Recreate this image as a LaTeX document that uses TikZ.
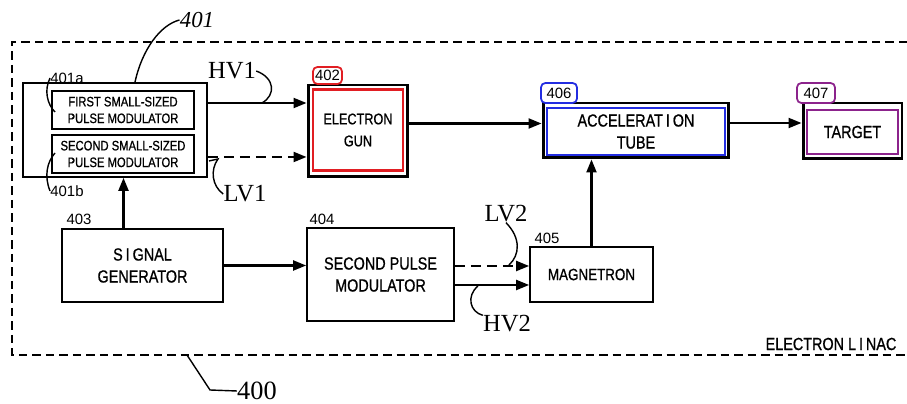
\documentclass[tikz,border=0pt]{standalone}
\usepackage{fontspec}
\setmainfont{Liberation Serif}
\setsansfont{Liberation Sans}
\newfontfamily\bloccofont[FakeStretch=0.82, FakeBold=0.8]{Liberation Sans}
\usetikzlibrary{arrows.meta}

\definecolor{rossoL}{RGB}{225,30,35}
\definecolor{bluL}{RGB}{35,45,225}
\definecolor{violaL}{RGB}{140,35,140}

\tikzset{
    blocco/.style={draw, line width=1pt, align=center, inner sep=0pt, font=\bloccofont\fontsize{10}{12.5}\selectfont},
    esterno/.style={draw, line width=1.7pt, inner sep=0pt},
    interno/.style={draw=#1, line width=1.3pt, align=center, inner sep=0pt, font=\bloccofont\fontsize{10}{12.5}\selectfont},
    sigla/.style={inner sep=0pt, font=\sffamily\fontsize{8.5}{10}\selectfont},
    etichetta/.style={draw=#1, line width=1pt, rounded corners=2.5pt, inner sep=0pt, font=\sffamily\fontsize{8.5}{10}\selectfont},
    tensione/.style={inner sep=0pt, font=\fontsize{14}{16}\selectfont},
    freccia/.style={->, line width=1.2pt},
    guida/.style={line width=0.8pt},
}

\begin{document}
\begin{tikzpicture}[x=0.02cm, y=-0.02cm, >={Triangle[length=0.26cm, width=0.2cm]}]
        \useasboundingbox (0,0) rectangle (907,404);

        % Contorno tratteggiato del linac
        \draw[line width=1.2pt, dash pattern=on 0.17cm off 0.1cm] (907,42) -- (12,42) -- (12,355) -- (907,355);
        \node[blocco, draw=none, font=\bloccofont\fontsize{10}{12}\selectfont] (linac) at (831,344) {ELECTRON L\,I\,NAC};
        \node[tensione, font=\fontsize{15}{17}\selectfont] (l400) at (257,391) {400};
        \draw[guida] (187,355) -- (210,390) -- (l400.west);

        % Modulatori piccoli (401)
        \node[blocco, minimum width=3.68cm, minimum height=1.88cm] (mod) at (115,130) {};
        \node[blocco, minimum width=2.84cm, minimum height=0.76cm, font=\bloccofont\fontsize{7.8}{9.5}\selectfont] (modA) at (123,110) {FIRST SMALL-SIZED\\PULSE MODULATOR};
        \node[blocco, minimum width=2.84cm, minimum height=0.76cm, font=\bloccofont\fontsize{7.8}{9.5}\selectfont] (modB) at (123,154) {SECOND SMALL-SIZED\\PULSE MODULATOR};
        \node[sigla] (l401a) at (67,78) {401a};
        \node[sigla] (l401b) at (67,191) {401b};
        \node[tensione, font=\itshape\fontsize{13}{15}\selectfont] (l401) at (197,20) {401};
        \draw[guida] (l401a.west) .. controls (44,90) and (47,104) .. (55,112);
        \draw[guida] (l401b.west) .. controls (44,176) and (47,162) .. (55,153);
        \draw[guida] ([xshift=0.4cm]mod.north) .. controls (142,50) and (160,25) .. (l401.west);

        % Cannone elettronico (402)
        \node[esterno, minimum width=2cm, minimum height=1.84cm] (gun) at (358,131) {};
        \node[interno=rossoL, minimum width=1.8cm, minimum height=1.62cm, font=\bloccofont\fontsize{8.8}{12.5}\selectfont] (gunIn) at (358,130) {ELECTRON\\GUN};
        \node[etichetta=rossoL, minimum width=0.58cm, minimum height=0.34cm] (l402) at (327.5,75.5) {402};

        % Tubo acceleratore (406) e bersaglio (407)
        \node[esterno, minimum width=3.72cm, minimum height=1.1cm] (tube) at (636,130.5) {};
        \node[interno=bluL, minimum width=3.56cm, minimum height=0.94cm] (tubeIn) at (636,131.5) {ACCELERAT\,I\,ON\\TUBE};
        \node[etichetta=bluL, minimum width=0.72cm, minimum height=0.4cm] (l406) at (559,93) {406};
        \node[esterno, minimum width=1.98cm, minimum height=1.12cm] (target) at (852.5,131) {};
        \node[interno=violaL, minimum width=1.82cm, minimum height=0.88cm] (targetIn) at (852.5,132) {TARGET};
        \node[etichetta=violaL, minimum width=0.76cm, minimum height=0.4cm] (l407) at (816,93) {407};

        % Generatore di segnale (403), secondo modulatore (404), magnetron (405)
        \node[blocco, minimum width=3.22cm, minimum height=1.46cm] (siggen) at (142.5,265.5) {S\,I\,GNAL\\GENERATOR};
        \node[blocco, minimum width=2.94cm, minimum height=1.86cm] (pmod) at (380.5,274.5) {SECOND PULSE\\MODULATOR};
        \node[blocco, minimum width=2.46cm, minimum height=1.1cm, font=\bloccofont\fontsize{9.3}{11}\selectfont] (magn) at (591.5,274.5) {MAGNETRON};
        \node[sigla] (l403) at (79,219) {403};
        \node[sigla] (l404) at (322,219) {404};
        \node[sigla] (l405) at (547,238) {405};

        % Collegamenti
        \coordinate (hv1) at ([yshift=0.54cm]mod.east);
        \coordinate (lv1) at ([yshift=-0.54cm]mod.east);
        \draw[freccia] (hv1) -- (hv1 -| gun.west);
        \draw[freccia, dash pattern=on 0.2cm off 0.12cm] (lv1) -- (lv1 -| gun.west);
        \draw[freccia] ([yshift=0.15cm]gun.east) -- ([yshift=0.15cm]gun.east -| tube.west);
        \draw[freccia] ([yshift=0.15cm]tube.east) -- ([yshift=0.15cm]tube.east -| target.west);
        \draw[freccia] ([xshift=-0.38cm]siggen.north) -- ([xshift=-0.38cm]siggen.north |- mod.south);
        \draw[freccia] (siggen.east) -- (siggen.east -| pmod.west);
        \coordinate (lv2) at ([yshift=0.17cm]pmod.east);
        \coordinate (hv2) at ([yshift=-0.21cm]pmod.east);
        \draw[freccia, dash pattern=on 0.2cm off 0.12cm] (lv2) -- (lv2 -| magn.west);
        \draw[freccia] (hv2) -- (hv2 -| magn.west);
        \draw[freccia] (magn.north) -- (magn.north |- tube.south);

        % Tensioni HV / LV
        \node[tensione] (thv1) at (232,71) {HV1};
        \node[tensione] (tlv1) at (245,194) {LV1};
        \node[tensione] (tlv2) at (506,214) {LV2};
        \node[tensione] (thv2) at (507,324) {HV2};
        \draw[guida] (thv1.east) .. controls (275,78) and (276,95) .. (262,103);
        \draw[guida] (209,161) -- (218,159) .. controls (210,170) and (212,186) .. (tlv1.west);
        \draw[guida] (tlv2.south) .. controls (521,238) and (520,255) .. (509,265);
        \draw[guida] (478,286) .. controls (466,296) and (470,312) .. (thv2.north west);

    \end{tikzpicture}
\end{document}
